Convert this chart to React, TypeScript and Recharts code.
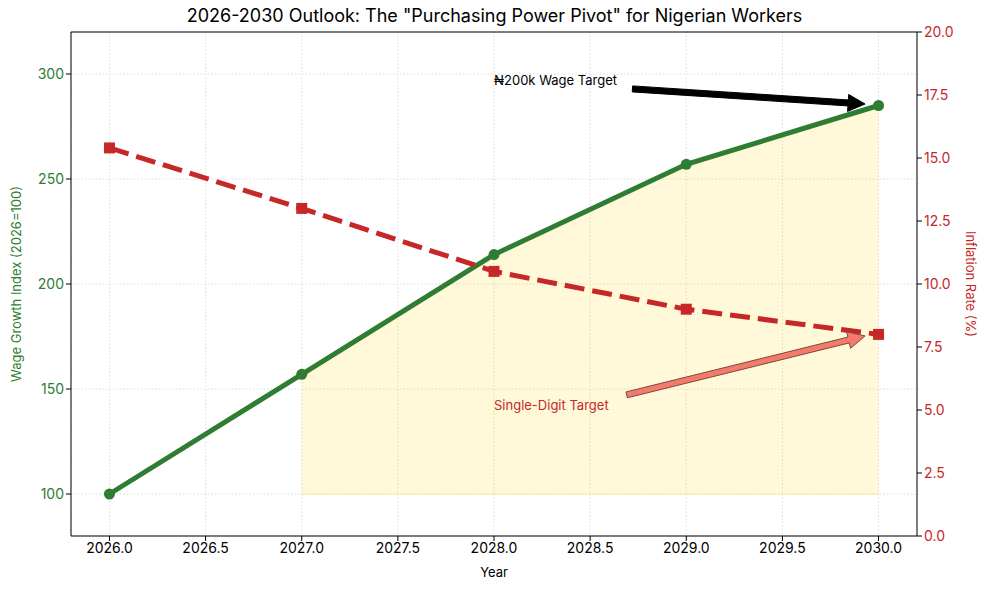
import { ComposedChart, Line, Area, XAxis, YAxis, CartesianGrid, ReferenceLine, ReferenceDot } from 'recharts';

const years = [2026, 2027, 2028, 2029, 2030];
const wageIndex = [100, 157, 214, 257, 285];
const inflationRate = [15.4, 13.0, 10.5, 9.0, 8.0];
const xTicks = [2026, 2026.5, 2027, 2027.5, 2028, 2028.5, 2029, 2029.5, 2030];
const wageTicks = [100, 150, 200, 250, 300];
const inflationTicks = [0, 2.5, 5, 7.5, 10, 12.5, 15, 17.5, 20];
const fillFromYear = 2027;
const fillBase = 100;

const GREEN = '#2e7d32';
const RED = '#c62828';
const FONT = 'Inter, "Noto Sans", sans-serif';

const rows = years.map((year, i) => ({
  year,
  wage: wageIndex[i],
  inflation: inflationRate[i],
  band: year >= fillFromYear ? [fillBase, wageIndex[i]] : null,
}));

/** Polygon for a matplotlib-style "simple" arrow from (x1,y1) to tip (x2,y2) */
function arrowPoints(x1: number, y1: number, x2: number, y2: number, w: number, hw: number, hl: number) {
  const dx = x2 - x1;
  const dy = y2 - y1;
  const len = Math.hypot(dx, dy);
  const ux = dx / len;
  const uy = dy / len;
  const nx = -uy;
  const ny = ux;
  const bx = x2 - ux * hl;
  const by = y2 - uy * hl;
  const pts = [
    [x1 + nx * w / 2, y1 + ny * w / 2],
    [bx + nx * w / 2, by + ny * w / 2],
    [bx + nx * hw / 2, by + ny * hw / 2],
    [x2, y2],
    [bx - nx * hw / 2, by - ny * hw / 2],
    [bx - nx * w / 2, by - ny * w / 2],
    [x1 - nx * w / 2, y1 - ny * w / 2],
  ];
  return pts.map(p => `${p[0]},${p[1]}`).join(' ');
}

function arrowShape(fill: string, stroke: string) {
  return (p: any) => (
    <polygon
      points={arrowPoints(p.x1, p.y1, p.x2, p.y2, 6, 17, 17)}
      fill={fill}
      stroke={stroke}
      strokeWidth={1}
      strokeLinejoin="miter"
    />
  );
}

function labelShape(text: string, color: string) {
  return (p: any) => (
    <text x={p.cx} y={p.cy} dy="0.35em" fill={color} fontSize={13} fontFamily={FONT}>
      {text}
    </text>
  );
}

function SquareDot(props: any) {
  const { cx, cy, index } = props;
  return <rect key={`sq-${index}`} x={cx - 5.5} y={cy - 5.5} width={11} height={11} fill={RED} />;
}

export default function App() {
  return (
    <div style={{ position: 'absolute', left: 0, top: 0, width: 989, height: 590, background: '#fff', fontFamily: FONT }}>
      <div style={{ position: 'absolute', left: 0, top: 5, width: 989, textAlign: 'center', fontSize: 18, color: '#000' }}>
        2026-2030 Outlook: The "Purchasing Power Pivot" for Nigerian Workers
      </div>
      <ComposedChart
        width={989}
        height={590}
        data={rows}
        margin={{ top: 32, right: 0, left: 0, bottom: 0 }}
        style={{ position: 'absolute', left: 0, top: 0 }}
      >
        <CartesianGrid yAxisId="left" stroke="#d4d4d4" strokeDasharray="1.5 2" strokeWidth={0.8} />
        <XAxis
          dataKey="year"
          type="number"
          domain={[2025.8, 2030.2]}
          ticks={xTicks}
          tickFormatter={(v: number) => v.toFixed(1)}
          height={54}
          stroke="#000"
          tickSize={5}
          tick={{ fill: '#000', fontSize: 14, fontFamily: FONT }}
          label={{ value: 'Year', position: 'insideBottom', offset: 13, fill: '#000', fontSize: 13, fontFamily: FONT }}
        />
        <YAxis
          yAxisId="left"
          domain={[80, 320]}
          ticks={wageTicks}
          width={71}
          stroke="#000"
          tickSize={5}
          tick={{ fill: GREEN, fontSize: 14, fontFamily: FONT }}
          label={{ value: 'Wage Growth Index (2026=100)', angle: -90, position: 'center', dx: -19, fill: GREEN, fontSize: 13, fontFamily: FONT }}
        />
        <YAxis
          yAxisId="right"
          orientation="right"
          domain={[0, 20]}
          ticks={inflationTicks}
          tickFormatter={(v: number) => v.toFixed(1)}
          width={72}
          stroke="#000"
          tickSize={5}
          tick={{ fill: RED, fontSize: 14, fontFamily: FONT }}
          label={{ value: 'Inflation Rate (%)', angle: 90, position: 'center', dx: 18, fill: RED, fontSize: 13, fontFamily: FONT }}
        />
        <ReferenceLine yAxisId="left" y={320} stroke="#000" strokeWidth={1} />
        <Area
          yAxisId="left"
          dataKey="band"
          type="linear"
          fill="#ffd700"
          fillOpacity={0.15}
          stroke="#ffd700"
          strokeOpacity={0.3}
          strokeWidth={1}
          isAnimationActive={false}
          activeDot={false}
        />
        <Line
          yAxisId="left"
          dataKey="wage"
          type="linear"
          stroke={GREEN}
          strokeWidth={5}
          dot={{ r: 5.5, fill: GREEN, stroke: GREEN, strokeWidth: 0 }}
          isAnimationActive={false}
        />
        <Line
          yAxisId="right"
          dataKey="inflation"
          type="linear"
          stroke={RED}
          strokeWidth={5}
          strokeDasharray="20 8"
          dot={SquareDot}
          isAnimationActive={false}
        />
        <ReferenceLine
          yAxisId="left"
          segment={[{ x: 2028.72, y: 292.9 }, { x: 2029.93, y: 285.7 }]}
          shape={arrowShape('#000', '#000')}
        />
        <ReferenceLine
          yAxisId="right"
          segment={[{ x: 2028.69, y: 5.6 }, { x: 2029.93, y: 7.94 }]}
          shape={arrowShape('#f47a6c', '#7b4a40')}
        />
        <ReferenceDot yAxisId="left" x={2028} y={296.7} shape={labelShape('₦200k Wage Target', '#000')} />
        <ReferenceDot yAxisId="right" x={2028} y={5.2} shape={labelShape('Single-Digit Target', RED)} />
      </ComposedChart>
    </div>
  );
}
